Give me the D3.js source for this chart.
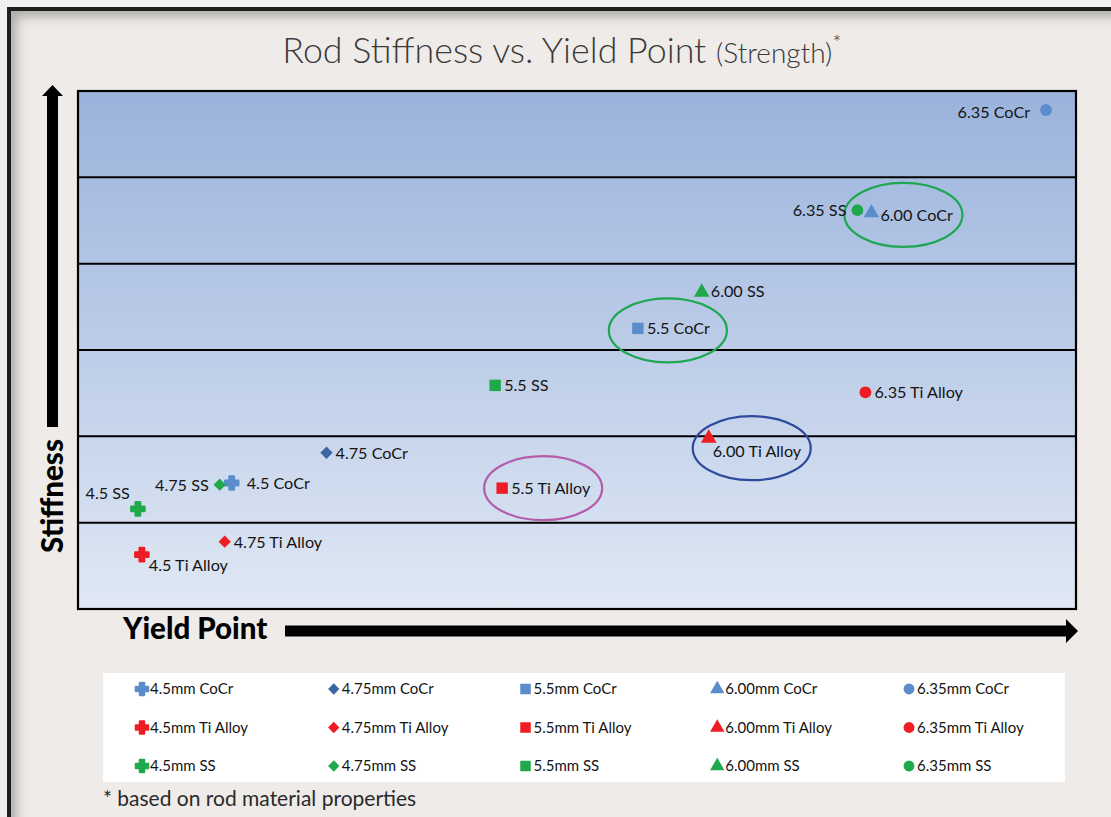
<!DOCTYPE html>
<html><head><meta charset="utf-8">
<script src="https://cdn.jsdelivr.net/npm/d3@7"></script>
<style>html,body{margin:0;padding:0;background:#f1f0ee;overflow:hidden}svg{display:block}</style>
</head><body><svg id="c" width="1111" height="817"></svg>
<script>
// ---- data ----
const sizes = ["4.5", "4.75", "5.5", "6.00", "6.35"];
const materials = ["CoCr", "Ti Alloy", "SS"];
// yield point (relative, 0-100) and stiffness (relative, 0-6)
const cocrYield = [15.4, 24.9, 56.1, 79.5, 97.0];
const cocrStiff = [1.46, 1.81, 3.25, 4.60, 5.78];
const tiYield   = [6.4, 14.7, 42.5, 63.2, 78.9];
const tiStiff   = [0.63, 0.78, 1.40, 1.99, 2.51];
const ssYield   = [6.0, 14.2, 41.8, 62.5, 78.1];
const ssStiff   = [1.16, 1.44, 2.59, 3.68, 4.62];
// where each point's label sits relative to its marker
const cocrLabelSide = ["right", "right", "right", "right", "left"];
const tiLabelSide   = ["belowright", "right", "right", "belowright2", "right"];
const ssLabelSide   = ["aboveleft", "left", "right", "right", "left"];
const bandTicks = [1, 2, 3, 4, 5];
const highlighted = [["6.00", "CoCr"], ["5.5", "CoCr"], ["6.00", "Ti Alloy"], ["5.5", "Ti Alloy"]];
const highlightColors = ["#1ea651", "#1ea651", "#2f4a9c", "#b45ca9"];
const legendSuffix = "mm";

const svg = d3.select("#c");
const W = 1111, H = 817;
const font = "Lato, 'Open Sans', sans-serif";
const defs = svg.append("defs");

// background / frame
svg.append("rect").attr("width", W).attr("height", H).attr("fill", "#f1f0ee");
svg.append("rect").attr("x", 9).attr("y", 9).attr("width", W + 20).attr("height", H + 20)
  .attr("fill", "#eeebe8");
const blur = defs.append("filter").attr("id", "blur").attr("x", "-10%").attr("y", "-10%").attr("width", "120%").attr("height", "120%");
blur.append("feGaussianBlur").attr("stdDeviation", 6);
defs.append("clipPath").attr("id", "inner").append("rect").attr("x", 11).attr("y", 11).attr("width", W).attr("height", H);
svg.append("rect").attr("x", 9).attr("y", 9).attr("width", W + 20).attr("height", H + 20)
  .attr("fill", "none").attr("stroke", "#a8a6a3").attr("stroke-width", 14)
  .attr("filter", "url(#blur)").attr("clip-path", "url(#inner)");
svg.append("rect").attr("x", 9).attr("y", 9).attr("width", W + 20).attr("height", H + 20)
  .attr("fill", "none").attr("stroke", "#1f1e1e").attr("stroke-width", 4);

// plot area
const L = 78, R = 1076, T = 91, B = 609;
const x = d3.scaleLinear().domain([0, 100]).range([L, R]);
const y = d3.scaleLinear().domain([0, 6]).range([B, T]);

const grad = defs.append("linearGradient").attr("id", "bg").attr("x1", 0).attr("y1", 0).attr("x2", 0).attr("y2", 1);
grad.append("stop").attr("offset", "0%").attr("stop-color", "#9ab3dc");
grad.append("stop").attr("offset", "50%").attr("stop-color", "#bdcde8");
grad.append("stop").attr("offset", "100%").attr("stop-color", "#e0e8f4");
svg.append("rect").attr("x", L).attr("y", T).attr("width", R - L).attr("height", B - T)
  .attr("fill", "url(#bg)");
svg.append("g").selectAll("line").data(bandTicks).join("line")
  .attr("x1", L).attr("x2", R).attr("y1", d => y(d)).attr("y2", d => y(d))
  .attr("stroke", "#000").attr("stroke-width", 2);
svg.append("rect").attr("x", L).attr("y", T).attr("width", R - L).attr("height", B - T)
  .attr("fill", "none").attr("stroke", "#000").attr("stroke-width", 2.2);

// title
const title = svg.append("text").attr("x", 562).attr("y", 63).attr("text-anchor", "middle")
  .attr("font-family", font).attr("font-weight", 300).attr("fill", "#3a3a3a");
title.append("tspan").attr("font-size", 35.8).text("Rod Stiffness vs. Yield Point ");
title.append("tspan").attr("font-size", 28).text("(Strength)");
title.append("tspan").attr("font-size", 22).attr("dy", -12).text("*");

// axis arrows
svg.append("path").attr("d", "M47,96 L47,427 L58,427 L58,96 L63,96 L52.5,85 L42,96 Z").attr("fill", "#000");
svg.append("text").attr("transform", "translate(63,496) rotate(-90)").attr("text-anchor", "middle")
  .attr("font-family", font).attr("font-weight", 900).attr("font-size", 29.5).attr("fill", "#000").text("Stiffness");
svg.append("text").attr("x", 123).attr("y", 639).attr("font-family", font).attr("font-weight", 900)
  .attr("font-size", 29.5).attr("fill", "#000").text("Yield Point");
svg.append("path").attr("d", "M285,625.5 L1066,625.5 L1066,619 L1078,631 L1066,643 L1066,636.5 L285,636.5 Z").attr("fill", "#000");

// symbols & colours
const symDiamondSq = {draw(ctx, size) { const r = Math.sqrt(size / 2); ctx.moveTo(0, -r); ctx.lineTo(r, 0); ctx.lineTo(0, r); ctx.lineTo(-r, 0); ctx.closePath(); }};
const shapes = [d3.symbolCross, symDiamondSq, d3.symbolSquare, d3.symbolTriangle, d3.symbolCircle];
const shapeSize = [95, 76, 130, 105, 110];
const colorOf = (m, i) => m === "CoCr" ? (i === 1 ? "#3a67a4" : "#5b8ccc") : m === "Ti Alloy" ? "#ee1d24" : "#1fa94b";

const series = [
  {m: "CoCr", xs: cocrYield, ys: cocrStiff, side: cocrLabelSide},
  {m: "Ti Alloy", xs: tiYield, ys: tiStiff, side: tiLabelSide},
  {m: "SS", xs: ssYield, ys: ssStiff, side: ssLabelSide}
];
const pts = [];
series.forEach(s => sizes.forEach((sz, i) => pts.push({size: sz, i, m: s.m, xv: s.xs[i], yv: s.ys[i], side: s.side[i]})));

// highlight ellipses
const ellOff = {"6.00|CoCr": [32, 3], "5.5|CoCr": [30, 2], "6.00|Ti Alloy": [43, 11], "5.5|Ti Alloy": [41, 0]};
highlighted.forEach((h, k) => {
  const p = pts.find(d => d.size === h[0] && d.m === h[1]);
  const o = ellOff[h.join("|")];
  svg.append("ellipse").attr("cx", x(p.xv) + o[0]).attr("cy", y(p.yv) + o[1]).attr("rx", 59).attr("ry", 32)
    .attr("fill", "none").attr("stroke", highlightColors[k]).attr("stroke-width", 2.2);
});

const gP = svg.append("g");
gP.selectAll("path").data(pts).join("path")
  .attr("transform", d => `translate(${x(d.xv)},${y(d.yv)})${d.i === 3 ? "translate(0,1)" : ""}`)
  .attr("d", d => d3.symbol(shapes[d.i], shapeSize[d.i])())
  .attr("fill", d => colorOf(d.m, d.i))
  .attr("stroke", d => d.i === 0 ? colorOf(d.m, d.i) : "none")
  .attr("stroke-width", 2.5).attr("stroke-linejoin", "round");

const lab = {
  right: [9, 6, "start"], left: [-11, 6, "end"], aboveleft: [-8, -10, "end"],
  belowright: [7, 16, "start"], belowright2: [4, 20, "start"]
};
gP.selectAll("text").data(pts).join("text")
  .attr("x", d => x(d.xv) + lab[d.side][0] + (d.i === 0 && d.m === "CoCr" ? 6 : 0) + (d.i === 4 && d.m === "CoCr" ? -5 : 0))
  .attr("y", d => y(d.yv) + lab[d.side][1] + (d.i === 3 && d.m === "CoCr" ? 3 : 0) + (d.i === 4 && d.m === "CoCr" ? 2 : 0))
  .attr("text-anchor", d => lab[d.side][2])
  .attr("font-family", font).attr("font-size", 16.2).attr("fill", "#141414")
  .text(d => `${d.size} ${d.m}`);

// legend
svg.append("rect").attr("x", 103).attr("y", 673).attr("width", 962).attr("height", 109).attr("fill", "#fff");
const lx = d3.scalePoint().domain(sizes).range([142, 909]);
const ly = d3.scalePoint().domain(materials).range([689, 766]);
const lg = svg.append("g");
const leg = [];
materials.forEach(m => sizes.forEach((sz, i) => leg.push({m, sz, i})));
lg.selectAll("path").data(leg).join("path")
  .attr("transform", d => `translate(${lx(d.sz)},${ly(d.m)})`)
  .attr("d", d => d3.symbol(shapes[d.i], shapeSize[d.i] * 0.85)())
  .attr("fill", d => colorOf(d.m, d.i))
  .attr("stroke", d => d.i === 0 ? colorOf(d.m, d.i) : "none")
  .attr("stroke-width", 2.5).attr("stroke-linejoin", "round");
lg.selectAll("text").data(leg).join("text")
  .attr("x", d => lx(d.sz) + 8).attr("y", d => ly(d.m) + 5)
  .attr("font-family", font).attr("font-size", 15).attr("fill", "#141414")
  .text(d => `${d.sz}${legendSuffix} ${d.m}`);

svg.append("text").attr("x", 103).attr("y", 806).attr("font-family", font).attr("font-size", 21)
  .attr("fill", "#2a2a2a").text("* based on rod material properties");
</script></body></html>
